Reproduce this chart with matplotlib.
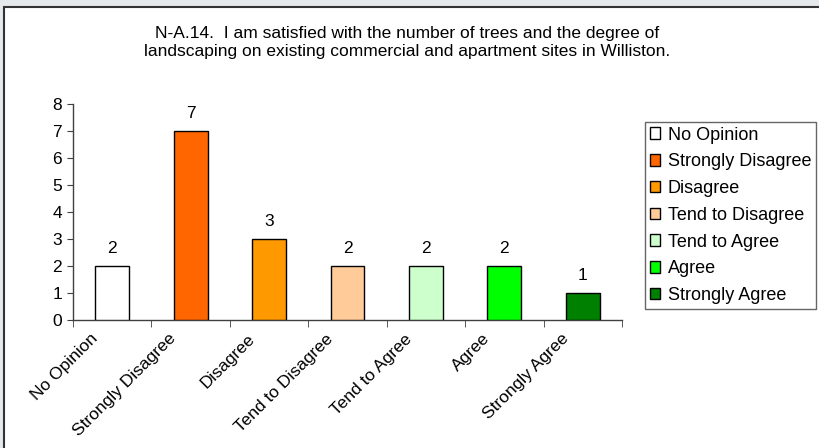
import matplotlib
matplotlib.use("Agg")
import matplotlib.pyplot as plt
import matplotlib.transforms as mtransforms
from matplotlib.patches import Patch, Rectangle

plt.rcParams['font.family'] = ['Liberation Sans', 'DejaVu Sans']

categories = ["No Opinion", "Strongly Disagree", "Disagree", "Tend to Disagree",
              "Tend to Agree", "Agree", "Strongly Agree"]
counts = [2, 7, 3, 2, 2, 2, 1]
colors = ["#FFFFFF", "#FF6600", "#FF9900", "#FFCC99", "#CCFFCC", "#00FF00", "#008000"]
title = ("N-A.14.  I am satisfied with the number of trees and the degree of\n"
         "landscaping on existing commercial and apartment sites in Williston.")

W, H = 820, 448
fig = plt.figure(figsize=(W / 100, H / 100), dpi=100)
fig.patch.set_facecolor("#E6E9EC")

# white chart area with dark border on top/left
fig.patches.append(Rectangle((4 / W, -0.1), 1.1, 1 - 7 / H + 0.1, transform=fig.transFigure,
                             facecolor="white", edgecolor="#333333", linewidth=1.5, zorder=0))

ax = fig.add_axes([73 / W, 1 - 320 / H, (622 - 73) / W, (320 - 104) / H])
ax.set_zorder(5)
ax.set_facecolor("none")

x = list(range(len(categories)))
ax.bar(x, counts, width=0.43, color=colors, edgecolor="black", linewidth=1.0, zorder=3)
for xi, v in zip(x, counts):
    ax.annotate(str(v), (xi, v), xytext=(0, 7), textcoords="offset points",
                ha="center", va="bottom", fontsize=12.5)

ax.set_xlim(-0.5, len(categories) - 0.5)
ax.set_ylim(0, 8)
ax.set_yticks(range(0, 9))
ax.tick_params(axis="y", labelsize=12.5, length=4, color="#404040", pad=4)

ax.set_xticks(x)
ax.set_xticklabels(categories, rotation=45, ha="right", rotation_mode="anchor", fontsize=12.5)
ax.tick_params(axis="x", which="major", length=0, pad=8)
ax.set_xticks([i - 0.5 for i in range(len(categories) + 1)], minor=True)
ax.tick_params(axis="x", which="minor", length=5, color="#404040")

# Excel puts the rotated labels a bit left of the category centre
shift = mtransforms.ScaledTranslation(-0.22, 0, fig.dpi_scale_trans)
for lbl in ax.get_xticklabels():
    lbl.set_transform(lbl.get_transform() + shift)

for s in ["top", "right"]:
    ax.spines[s].set_visible(False)
for s in ["left", "bottom"]:
    ax.spines[s].set_color("#404040")
    ax.spines[s].set_linewidth(1.0)

fig.text(407 / W, 1 - 42.5 / H, title, ha="center", va="center", fontsize=12.5, linespacing=1.25)

handles = [Patch(facecolor=c, edgecolor="black", linewidth=1.0) for c in colors]
leg = fig.legend(handles, categories, loc="upper left", bbox_to_anchor=(645 / W, 1 - 122 / H),
                 fontsize=13, frameon=True, fancybox=False, edgecolor="#404040",
                 handlelength=0.6, handleheight=0.6, handletextpad=0.4,
                 labelspacing=0.54, borderpad=0.25, borderaxespad=0)
leg.get_frame().set_linewidth(1.0)
leg.set_zorder(6)

fig.savefig("out.png", dpi=100, facecolor=fig.get_facecolor())
